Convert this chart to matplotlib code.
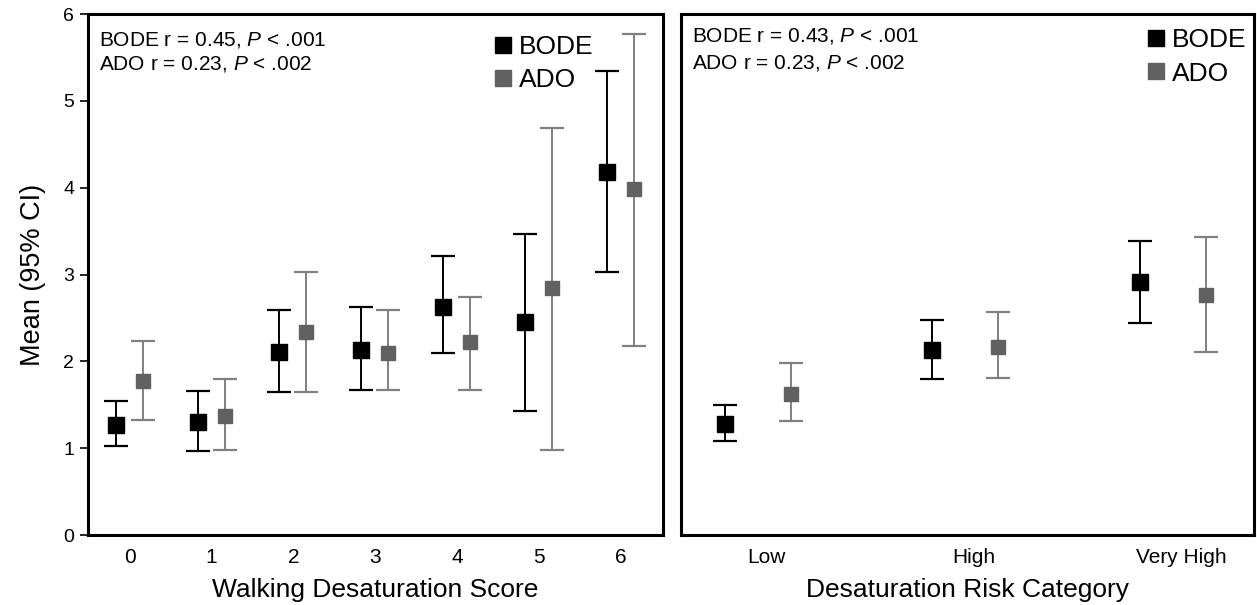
import numpy as np
import matplotlib
matplotlib.use('Agg')
import matplotlib.pyplot as plt
from matplotlib.lines import Line2D

plt.rcParams['font.family'] = ['Liberation Sans', 'DejaVu Sans']
plt.rcParams['mathtext.fontset'] = 'custom'
plt.rcParams['mathtext.rm'] = 'Liberation Sans'
plt.rcParams['mathtext.it'] = 'Liberation Sans:italic'

# left panel: walking desaturation score
score_labels = ['0', '1', '2', '3', '4', '5', '6']
bode_score_mean = [1.27, 1.30, 2.11, 2.13, 2.63, 2.45, 4.18]
bode_score_lo = [1.02, 0.97, 1.65, 1.67, 2.10, 1.43, 3.03]
bode_score_hi = [1.54, 1.66, 2.59, 2.63, 3.21, 3.47, 5.34]
ado_score_mean = [1.77, 1.37, 2.34, 2.10, 2.22, 2.84, 3.99]
ado_score_lo = [1.33, 0.98, 1.65, 1.67, 1.67, 0.98, 2.18]
ado_score_hi = [2.24, 1.80, 3.03, 2.59, 2.74, 4.69, 5.77]

# right panel: desaturation risk category
risk_labels = ['Low', 'High', 'Very High']
bode_risk_mean = [1.28, 2.13, 2.91]
bode_risk_lo = [1.08, 1.80, 2.44]
bode_risk_hi = [1.50, 2.48, 3.39]
ado_risk_mean = [1.62, 2.17, 2.76]
ado_risk_lo = [1.31, 1.81, 2.11]
ado_risk_hi = [1.98, 2.57, 3.43]

BODE_C = 'black'
ADO_C = '#616161'
ADO_E = '#808080'


def draw(ax, n, bm, blo, bhi, am, alo, ahi, off_b, off_a):
    x = np.arange(n)
    bm, blo, bhi = map(np.asarray, (bm, blo, bhi))
    am, alo, ahi = map(np.asarray, (am, alo, ahi))
    ax.errorbar(x + off_b, bm, yerr=[bm - blo, bhi - bm], fmt='s', ms=11,
                color=BODE_C, ecolor=BODE_C, elinewidth=1.4, capsize=8.5,
                capthick=1.6)
    ax.errorbar(x + off_a, am, yerr=[am - alo, ahi - am], fmt='s', ms=10,
                color=ADO_C, ecolor=ADO_E, elinewidth=1.4, capsize=8.5,
                capthick=1.6)


fig = plt.figure(figsize=(12.57, 6.05), dpi=100)
ax1 = fig.add_axes([0.070, 0.1157, 0.4575, 0.861])
ax2 = fig.add_axes([0.5418, 0.1157, 0.4555, 0.861])

draw(ax1, len(score_labels), bode_score_mean, bode_score_lo, bode_score_hi,
     ado_score_mean, ado_score_lo, ado_score_hi, -0.17, 0.16)
draw(ax2, len(risk_labels), bode_risk_mean, bode_risk_lo, bode_risk_hi,
     ado_risk_mean, ado_risk_lo, ado_risk_hi, -0.2, 0.12)

for ax in (ax1, ax2):
    for s in ax.spines.values():
        s.set_linewidth(2.2)
    ax.set_ylim(0, 6)

ax1.set_xlim(-0.51, 6.52)
ax1.set_xticks(range(len(score_labels)))
ax1.set_xticklabels(score_labels)
ax1.set_yticks(range(7))
ax1.tick_params(axis='x', length=0, labelsize=15, pad=9)
ax1.tick_params(axis='y', length=6, width=1.2, labelsize=14, pad=4)
ax1.set_xlabel('Walking Desaturation Score', fontsize=19, labelpad=8)
ax1.set_ylabel('Mean (95% CI)', fontsize=19.5, labelpad=12)

ax2.set_xlim(-0.41, 2.35)
ax2.set_xticks(range(len(risk_labels)))
ax2.set_xticklabels(risk_labels)
ax2.set_yticks([])
ax2.tick_params(axis='x', length=0, labelsize=15, pad=9)
ax2.set_xlabel('Desaturation Risk Category', fontsize=19, labelpad=8)

ax1.text(0.02, 0.95, 'BODE r = 0.45, $P$ < .001', transform=ax1.transAxes,
         fontsize=15, va='center')
ax1.text(0.02, 0.905, 'ADO r = 0.23, $P$ < .002', transform=ax1.transAxes,
         fontsize=15, va='center')
ax2.text(0.02, 0.957, 'BODE r = 0.43, $P$ < .001', transform=ax2.transAxes,
         fontsize=15, va='center')
ax2.text(0.02, 0.907, 'ADO r = 0.23, $P$ < .002', transform=ax2.transAxes,
         fontsize=15, va='center')

handles = [Line2D([], [], marker='s', ls='none', color=BODE_C, ms=11),
           Line2D([], [], marker='s', ls='none', color=ADO_C, ms=11)]
ax1.legend(handles, ['BODE', 'ADO'], loc='upper left',
           bbox_to_anchor=(0.69, 0.98), frameon=False, fontsize=19,
           handlelength=0.6, handletextpad=0.3, labelspacing=0.35,
           borderaxespad=0)
ax2.legend(handles, ['BODE', 'ADO'], loc='upper left',
           bbox_to_anchor=(0.797, 0.993), frameon=False, fontsize=19,
           handlelength=0.6, handletextpad=0.3, labelspacing=0.35,
           borderaxespad=0)

fig.savefig('out.png', dpi=100)
